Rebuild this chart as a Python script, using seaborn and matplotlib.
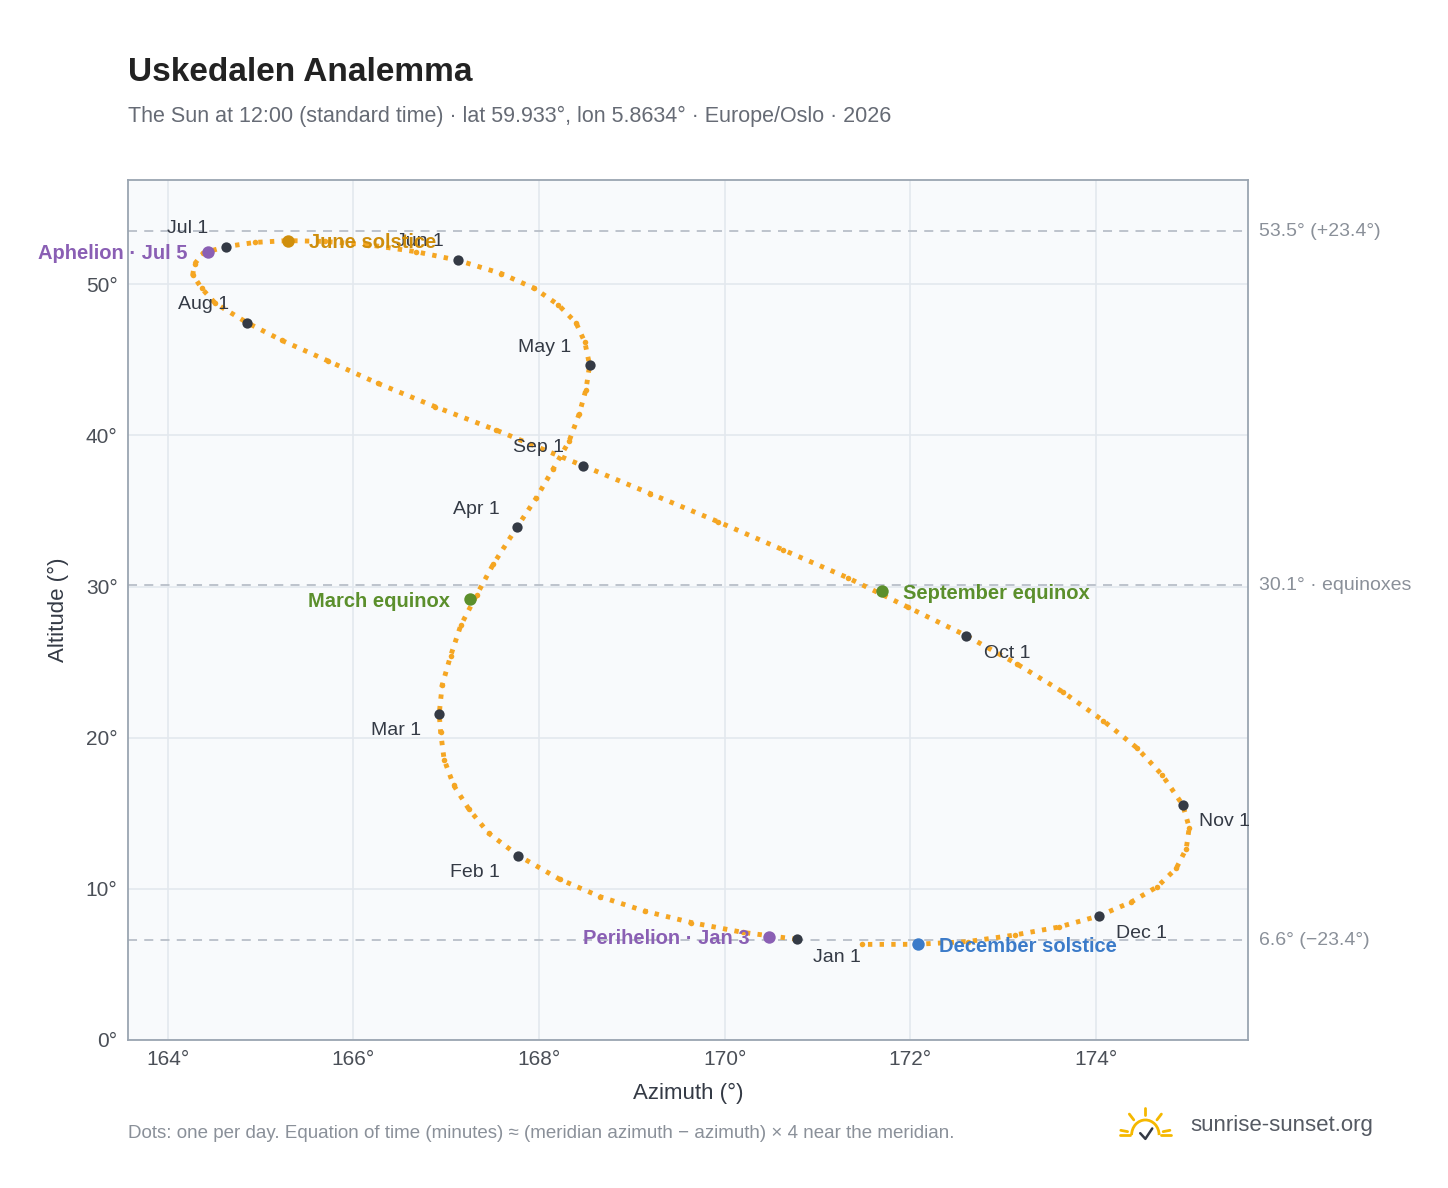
import numpy as np
import pandas as pd
import seaborn as sns
import matplotlib.pyplot as plt
from matplotlib.patches import Arc

# ---- data: sun declination (deg) and equation of time (min), every 5 days
dates = ["Jan 1","Jan 6","Jan 11","Jan 16","Jan 21","Jan 26","Feb 1","Feb 6","Feb 11","Feb 16","Feb 21","Feb 26",
         "Mar 1","Mar 6","Mar 11","Mar 16","Mar 21","Mar 26","Apr 1","Apr 6","Apr 11","Apr 16","Apr 21","Apr 26",
         "May 1","May 6","May 11","May 16","May 21","May 26","Jun 1","Jun 6","Jun 11","Jun 16","Jun 21","Jun 26",
         "Jul 1","Jul 6","Jul 11","Jul 16","Jul 21","Jul 26","Aug 1","Aug 6","Aug 11","Aug 16","Aug 21","Aug 26",
         "Sep 1","Sep 6","Sep 11","Sep 16","Sep 21","Sep 26","Oct 1","Oct 6","Oct 11","Oct 16","Oct 21","Oct 26",
         "Nov 1","Nov 6","Nov 11","Nov 16","Nov 21","Nov 26","Dec 1","Dec 6","Dec 11","Dec 16","Dec 21","Dec 26"]
decl = [-23.0,-22.5,-21.8,-21.0,-20.0,-18.8,-17.2,-15.7,-14.1,-12.5,-10.8,-9.0,
        -7.8,-5.9,-4.0,-2.0,0.0,2.0,4.4,6.3,8.2,10.0,11.8,13.4,
        15.0,16.5,17.8,19.0,20.1,21.1,22.0,22.6,23.1,23.35,23.44,23.35,
        23.1,22.7,22.0,21.3,20.4,19.4,18.1,16.9,15.5,14.0,12.4,10.8,
        8.4,6.5,4.6,2.7,0.8,-1.2,-3.1,-5.0,-6.9,-8.8,-10.6,-12.4,
        -14.4,-15.9,-17.3,-18.6,-19.8,-20.8,-21.7,-22.4,-22.9,-23.3,-23.44,-23.4]
eot = [-3.3,-5.6,-7.7,-9.5,-11.1,-12.4,-13.5,-14.1,-14.2,-14.1,-13.7,-13.0,
       -12.5,-11.5,-10.3,-9.0,-7.5,-6.0,-4.1,-2.6,-1.2,0.1,1.2,2.1,
       2.9,3.4,3.7,3.7,3.5,3.0,2.2,1.3,0.2,-0.9,-1.9,-2.9,
       -3.9,-4.8,-5.5,-6.0,-6.3,-6.5,-6.3,-5.9,-5.2,-4.4,-3.3,-2.0,
       -0.1,1.5,3.2,4.9,6.7,8.4,10.1,11.6,13.0,14.2,15.2,15.9,
       16.4,16.4,16.0,15.3,14.2,12.8,11.1,9.1,6.9,4.6,2.1,-0.4]

# month-first labels: (dx px, dy px)
month_labels = {"Jan 1": (40,-18), "Feb 1": (-43,-17), "Mar 1": (-43,-17), "Apr 1": (-41,18),
                "May 1": (-45,18), "Jun 1": (-38,19), "Jul 1": (-38,18), "Aug 1": (-43,18),
                "Sep 1": (-44,18), "Oct 1": (41,-18), "Nov 1": (42,-17), "Dec 1": (43,-17)}

# special events: name, declination, equation of time, colour, side
ev_names = ["Perihelion · Jan 3", "March equinox", "June solstice", "Aphelion · Jul 5", "September equinox", "December solstice"]
ev_decl = [-22.8, -0.3, 23.44, 22.8, -0.1, -23.44]
ev_eot = [-4.5, -7.9, -1.9, -4.6, 7.7, 2.2]
ev_col = ["#8a5fb4", "#5b8f2c", "#cf8e0c", "#8a5fb4", "#5b8f2c", "#3b7bc9"]
ev_side = ["left", "left", "right", "left", "right", "right"]

lat, lon, zone_meridian = 59.933, 5.8634, 15.0


def sun_pos(d, e):
    d = np.radians(np.asarray(d, float))
    ha = np.radians(((lon - zone_meridian) * 4 + np.asarray(e, float)) / 4.0)
    p = np.radians(lat)
    alt = np.degrees(np.arcsin(np.sin(p) * np.sin(d) + np.cos(p) * np.cos(d) * np.cos(ha)))
    az = np.degrees(np.arctan2(np.sin(ha), np.cos(ha) * np.sin(p) - np.tan(d) * np.cos(p))) + 180
    return az, alt


az, alt = sun_pos(decl, eot)
df = pd.DataFrame({"date": dates, "az": az, "alt": alt})
loop = pd.concat([df, df.iloc[:1]])
eaz, ealt = sun_pos(ev_decl, ev_eot)

sns.set_style("white")
plt.rcParams["font.family"] = ["Liberation Sans", "DejaVu Sans"]
fig = plt.figure(figsize=(14.48, 11.88), dpi=100)
ax = fig.add_axes([0.0884, 0.1246, 0.7735, 0.7239])
ax.set_facecolor("#f8fafc")

ax.set_xlim(163.57, 175.64)
ax.set_ylim(0, 56.9)
ax.set_xticks([164, 166, 168, 170, 172, 174])
ax.set_xticklabels([f"{t}°" for t in [164, 166, 168, 170, 172, 174]])
ax.set_yticks([0, 10, 20, 30, 40, 50])
ax.set_yticklabels([f"{t}°" for t in [0, 10, 20, 30, 40, 50]])
ax.grid(True, color="#e3e8ee", lw=1.2)
ax.tick_params(labelsize=15, colors="#4a4f57", length=4, color="#9aa5b1")
for s in ax.spines.values():
    s.set_color("#9aa5b1")
    s.set_linewidth(1.3)

for y, lab in [(53.5, "53.5° (+23.4°)"), (30.1, "30.1° · equinoxes"), (6.6, "6.6° (−23.4°)")]:
    ax.axhline(y, color="#b8bfc8", ls=(0, (5, 4)), lw=1.3, zorder=1)
    ax.text(1.01, y, lab, transform=ax.get_yaxis_transform(), va="center", ha="left",
            fontsize=14, color="#8a9099")

sns.lineplot(data=loop, x="az", y="alt", sort=False, ax=ax, color="#f5a623",
             lw=3.5, ls=(0, (0.9, 1.5)), zorder=2)
sns.scatterplot(data=df, x="az", y="alt", ax=ax, color="#f5a623", s=16, linewidth=0, zorder=3)

mf = df[df["date"].isin(month_labels.keys())]
sns.scatterplot(data=mf, x="az", y="alt", ax=ax, color="#343a45", s=55, linewidth=0, zorder=5)
for _, r in mf.iterrows():
    dx, dy = month_labels[r["date"]]
    ax.annotate(r["date"], (r["az"], r["alt"]), xytext=(dx, dy), textcoords="offset pixels",
                ha="center", va="center", fontsize=14, color="#343a45", zorder=6)

for n, x, y, c, side in zip(ev_names, eaz, ealt, ev_col, ev_side):
    ax.scatter([x], [y], s=80, color=c, zorder=6, linewidths=0)
    off = -20 if side == "left" else 21
    ax.annotate(n, (x, y), xytext=(off, -2), textcoords="offset pixels",
                ha="right" if side == "left" else "left", va="center",
                fontsize=14.5, fontweight="bold", color=c, zorder=7)

ax.set_xlabel("Azimuth (°)", fontsize=16, color="#343a45", labelpad=10)
ax.set_ylabel("Altitude (°)", fontsize=16, color="#343a45", labelpad=12)

fig.text(0.0884, 0.939, "Uskedalen Analemma", fontsize=24, fontweight="bold", color="#222222", va="center")
fig.text(0.0884, 0.902, "The Sun at 12:00 (standard time) · lat 59.933°, lon 5.8634° · Europe/Oslo · 2026",
         fontsize=15.5, color="#666b75", va="center")
fig.text(0.0884, 0.046, "Dots: one per day. Equation of time (minutes) ≈ (meridian azimuth − azimuth) × 4 near the meridian.",
         fontsize=13.5, color="#8a9099", va="center")
fig.text(0.822, 0.053, "sunrise-sunset.org", fontsize=16, color="#555a63", va="center")

# small sun logo
lax = fig.add_axes([0.772, 0.035, 0.038, 0.035])
lax.set_xlim(-1.6, 1.6)
lax.set_ylim(-0.6, 1.6)
lax.axis("off")
lax.add_patch(Arc((0, 0), 1.6, 1.6, theta1=0, theta2=180, color="#f5b800", lw=2))
for a in np.radians([10, 50, 90, 130, 170]):
    lax.plot([1.05 * np.cos(a), 1.45 * np.cos(a)], [1.05 * np.sin(a), 1.45 * np.sin(a)], color="#f5b800", lw=2)
lax.plot([-1.5, -0.9], [0, 0], color="#f5b800", lw=2)
lax.plot([0.9, 1.5], [0, 0], color="#f5b800", lw=2)
lax.plot([-0.3, 0, 0.4], [0.1, -0.2, 0.35], color="#343a45", lw=1.8)

fig.savefig("out.png", dpi=100)
